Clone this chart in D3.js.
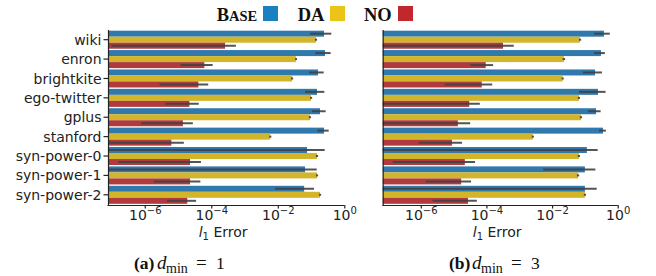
<!DOCTYPE html>
<meta charset="utf-8">

<script src="https://d3js.org/d3.v7.min.js"></script>

<style type="text/css">

body {
  margin: 0;
  background: #fff;
}

.axis text {
  font-family: "DejaVu Sans", sans-serif;
  font-size: 14px;
  fill: #222;
}

.axis line, .axis path {
  stroke: #222;
  stroke-width: 1.2px;
}

.legend text, .caption text {
  font-family: "Liberation Serif", "Times New Roman", serif;
  fill: #111;
}

</style>

<body>
</body>

<script>

// categories on the y axis (same for both panels)
var categories = ["wiki", "enron", "brightkite", "ego-twitter", "gplus", "stanford",
                  "syn-power-0", "syn-power-1", "syn-power-2"];
var methods = ["BASE", "DA", "NO"];

// x axis ticks (log scale)
var xTicks = [1e-6, 1e-4, 1e-2, 1];
var xTickExp = ["\u22126", "\u22124", "\u22122", "0"];

// panel (a) d_min = 1  -- mean l1 error plus error bar ends
var baseA   = [0.245, 0.263, 0.162, 0.151, 0.186, 0.245, 0.076, 0.066, 0.062];
var baseLoA = [0.093, 0.135, 0.087, 0.066, 0.107, 0.155, 1e-8, 1e-8, 0.0083];
var baseHiA = [0.407, 0.389, 0.240, 0.251, 0.275, 0.339, 0.257, 0.148, 0.123];
var daA     = [0.141, 0.035, 0.027, 0.100, 0.093, 0.0059, 0.151, 0.151, 0.186];
var daLoA   = [0.131, 0.033, 0.025, 0.093, 0.086, 0.0055, 0.140, 0.140, 0.173];
var daHiA   = [0.152, 0.038, 0.029, 0.108, 0.100, 0.0064, 0.163, 0.163, 0.201];
var noA     = [2.6e-4, 6.2e-5, 4.1e-5, 2.2e-5, 1.4e-5, 6.3e-6, 2.3e-5, 2.3e-5, 1.9e-5];
var noLoA   = [1.0e-7, 1.2e-5, 2.8e-6, 4.2e-6, 7.8e-7, 1e-8, 1.6e-7, 1.9e-6, 4.7e-6];
var noHiA   = [5.5e-4, 1.1e-4, 8.1e-5, 4.2e-5, 2.8e-5, 1.5e-5, 4.9e-5, 4.7e-5, 3.5e-5];

// panel (b) d_min = 3
var baseB   = [0.380, 0.309, 0.204, 0.251, 0.219, 0.355, 0.115, 0.100, 0.100];
var baseLoB = [0.191, 0.191, 0.087, 0.066, 0.126, 0.269, 1e-8, 0.0054, 1e-8];
var baseHiB = [0.575, 0.407, 0.331, 0.427, 0.302, 0.437, 0.245, 0.209, 0.229];
var daB     = [0.071, 0.023, 0.021, 0.066, 0.076, 0.0026, 0.066, 0.062, 0.100];
var daLoB   = [0.066, 0.021, 0.0195, 0.061, 0.070, 0.0024, 0.061, 0.057, 0.093];
var daHiB   = [0.077, 0.025, 0.0227, 0.071, 0.082, 0.0028, 0.071, 0.067, 0.108];
var noB     = [3.2e-4, 9.5e-5, 7.2e-5, 3.0e-5, 1.35e-5, 8.9e-6, 2.2e-5, 1.7e-5, 2.75e-5];
var noLoB   = [1e-8, 3.2e-5, 5.4e-6, 1e-8, 1e-8, 8.7e-7, 1.4e-7, 1.4e-6, 2.3e-6];
var noHiB   = [6.8e-4, 1.6e-4, 1.5e-4, 6.3e-5, 3.2e-5, 1.8e-5, 4.5e-5, 3.4e-5, 5.1e-5];

var barColors = ["#2f79ad", "#d3b52c", "#b03a3e"];
var legendColors = ["#1a80bf", "#eac517", "#c1272d"];

var width = 656, height = 276;

var svg = d3.select("body").append("svg")
    .attr("width", width)
    .attr("height", height);

// category bands + bands for the 3 methods inside each category
var y0 = d3.scaleBand()
    .domain(categories)
    .range([30, 204.5])
    .paddingInner(0.07)
    .paddingOuter(0.035);

var y1 = d3.scaleBand()
    .domain(methods)
    .range([0, y0.bandwidth()]);

var axisY = 205;

function drawPanel(left, right, minExp, series, showLabels) {

  var x = d3.scaleLog()
    .domain([Math.pow(10, minExp), 1])
    .range([left, right])
    .clamp(true);

  var g = svg.append("g");

  // one group of bars per method
  series.forEach(function(s, j) {
    g.selectAll(".bar" + j)
      .data(categories).enter().append("rect")
      .attr("class", "bar" + j)
      .attr("x", left)
      .attr("y", function(d) { return y0(d) + y1(methods[j]); })
      .attr("width", function(d, i) { return x(s.v[i]) - left; })
      .attr("height", y1.bandwidth())
      .style("fill", barColors[j]);
  });

  // error bars on top
  series.forEach(function(s, j) {
    g.selectAll(".err" + j)
      .data(categories).enter().append("line")
      .attr("class", "err" + j)
      .attr("x1", function(d, i) { return x(s.lo[i]); })
      .attr("x2", function(d, i) { return x(s.hi[i]); })
      .attr("y1", function(d) { return y0(d) + y1(methods[j]) + y1.bandwidth() / 2; })
      .attr("y2", function(d) { return y0(d) + y1(methods[j]) + y1.bandwidth() / 2; })
      .style("stroke", "#424242")
      .style("stroke-width", 2)
      .style("opacity", 0.9);
  });

  // y axis (spine only on the right panel)
  var yAxis = d3.axisLeft(y0)
    .tickSize(showLabels ? 4.5 : 0)
    .tickPadding(2)
    .tickSizeOuter(0);

  var ya = svg.append("g")
    .attr("class", "y axis")
    .attr("transform", "translate(" + left + ",0)")
    .call(yAxis);
  ya.select(".domain").attr("d", "M0.5,30V" + axisY);
  if (!showLabels) ya.selectAll(".tick text").remove();
  ya.selectAll(".tick text").attr("dy", "0.36em");

  // x axis with 10^n labels
  var xAxis = d3.axisBottom(x)
    .tickValues(xTicks)
    .tickSize(3.5)
    .tickSizeOuter(0)
    .tickFormat("");

  var xa = svg.append("g")
    .attr("class", "x axis")
    .attr("transform", "translate(0," + axisY + ")")
    .call(xAxis);
  xa.select(".domain").attr("d", "M" + (left - 0.5) + ",0.5H" + right);

  var lab = xa.selectAll(".tick").append("text")
    .attr("y", 15)
    .attr("text-anchor", "middle");
  lab.append("tspan").text("10");
  lab.append("tspan")
    .attr("dy", -6)
    .style("font-size", "10px")
    .text(function(d, i) { return xTickExp[i]; });

  // x label: l_1 Error
  var xl = svg.append("text")
    .attr("class", "xlabel")
    .attr("x", (left + right) / 2 - 3)
    .attr("y", 236.5)
    .attr("text-anchor", "middle")
    .style("font-family", "DejaVu Sans, sans-serif")
    .style("font-size", "14px")
    .style("fill", "#222");
  xl.append("tspan").style("font-style", "italic").text("l");
  xl.append("tspan").attr("dy", 3).style("font-size", "10px").text("1");
  xl.append("tspan").attr("dy", -3).text("\u00a0Error");
}

drawPanel(108, 344.3, -7.105, [
  {v: baseA, lo: baseLoA, hi: baseHiA},
  {v: daA, lo: daLoA, hi: daHiA},
  {v: noA, lo: noLoA, hi: noHiA}
], true);

drawPanel(382.7, 617.7, -7.16, [
  {v: baseB, lo: baseLoB, hi: baseHiB},
  {v: daB, lo: daLoB, hi: daHiB},
  {v: noB, lo: noLoB, hi: noHiB}
], false);

// legend on top
var legend = svg.append("g").attr("class", "legend");
var legendX = [216.7, 297.7, 364];
var squareX = [263, 330, 398];

methods.forEach(function(m, j) {
  var t = legend.append("text")
    .attr("x", legendX[j])
    .attr("y", 20.7)
    .style("font-weight", "bold")
    .style("font-size", "18.5px");
  if (m == "BASE") {
    t.append("tspan").text("B");
    t.append("tspan").style("font-size", "14.5px").text("ASE");
  } else {
    t.text(m);
  }
  legend.append("rect")
    .attr("x", squareX[j])
    .attr("y", 6)
    .attr("width", 15)
    .attr("height", 15)
    .style("fill", legendColors[j]);
});

// captions under each panel
var captions = [{x: 134, tag: "(a)", n: "1"}, {x: 449, tag: "(b)", n: "3"}];

captions.forEach(function(c) {
  var t = svg.append("g").attr("class", "caption").append("text")
    .attr("y", 269)
    .style("font-size", "17.5px");
  t.append("tspan").attr("x", c.x).style("font-weight", "bold").text(c.tag);
  t.append("tspan").attr("x", c.x + 23).style("font-style", "italic").style("font-size", "19px").text("d");
  t.append("tspan").attr("x", c.x + 32).attr("dy", 3.5).style("font-size", "14px").text("min");
  t.append("tspan").attr("x", c.x + 62).attr("dy", -3.5).style("font-size", "19px").text("=");
  t.append("tspan").attr("x", c.x + 82).text(c.n);
});

</script>
